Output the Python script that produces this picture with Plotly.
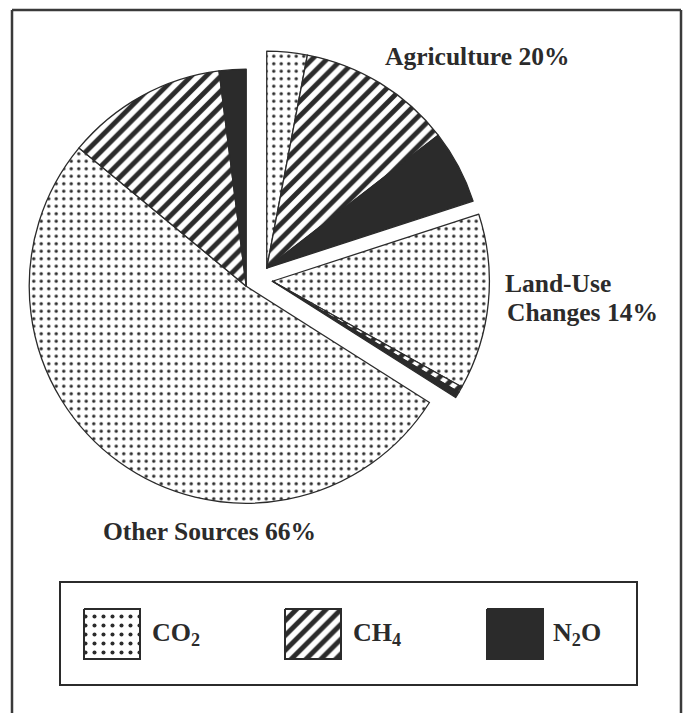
import math
import plotly.graph_objects as go

# ---- data: share of greenhouse-gas emissions (%) by source and gas ----
groups = ["Agriculture", "Land-Use Changes", "Other Sources"]
group_titles = ["Agriculture 20%", "Land-Use", "Changes 14%", "Other Sources 66%"]
gas_keys = ["CO2", "CH4", "N2O"]
gas_names = ["CO<sub>2</sub>", "CH<sub>4</sub>", "N<sub>2</sub>O"]
agriculture = [3.0, 11.5, 5.5]
land_use = [13.1, 0.45, 0.45]
other_sources = [52.0, 12.0, 2.0]

group_values = [agriculture, land_use, other_sources]

# ---- page geometry (pixels) ----
W, H = 683, 713
CX, CY = 258.5, 279.5      # pie centre before the wedges are pulled apart
R = 217                     # pie radius
PULL = 14                   # distance each source wedge is moved out

INK = "#2b2b2b"
CLEAR = "rgba(0,0,0,0)"
FONT = "Liberation Serif"

gas_fill = {
    "CO2": dict(color="white", pattern=dict(shape=".", size=7.5, solidity=0.16,
                                            fgcolor=INK, bgcolor="white", fillmode="replace")),
    "CH4": dict(color="white", pattern=dict(shape="/", size=10.5, solidity=0.47,
                                            fgcolor=INK, bgcolor="white", fillmode="replace")),
    "N2O": dict(color=INK, pattern=dict(shape="", size=8, solidity=0.3,
                                        fgcolor=INK, bgcolor=INK, fillmode="replace")),
}
key_dot_size = 9.0


def px(x):
    return x / W


def py(y):
    return 1 - y / H


labels = [f"{g} {k}" for g in groups for k in gas_keys]
values = [v for vals in group_values for v in vals]
total = sum(values)

fig = go.Figure()

start = 0.0
for gi, vals in enumerate(group_values):
    share = sum(vals)
    ang = math.radians((start + share / 2) / total * 360.0)
    cx = CX + PULL * math.sin(ang)
    cy = CY - PULL * math.cos(ang)
    start += share

    colors, shapes, fgs, bgs, sizes, sols, lcols, lwids = [], [], [], [], [], [], [], []
    for gj in range(len(groups)):
        for key in gas_keys:
            st = gas_fill[key]
            if gj == gi:
                colors.append(st["color"])
                shapes.append(st["pattern"]["shape"])
                fgs.append(st["pattern"]["fgcolor"])
                bgs.append(st["pattern"]["bgcolor"])
                sizes.append(st["pattern"]["size"])
                sols.append(st["pattern"]["solidity"])
                lcols.append(INK)
                lwids.append(1.3)
            else:
                colors.append(CLEAR)
                shapes.append("")
                fgs.append(CLEAR)
                bgs.append(CLEAR)
                sizes.append(8)
                sols.append(0.3)
                lcols.append(CLEAR)
                lwids.append(0)

    fig.add_trace(go.Pie(
        labels=labels, values=values, sort=False, direction="clockwise", rotation=0,
        textinfo="none", hoverinfo="label+value", showlegend=False,
        domain=dict(x=[px(cx - R), px(cx + R)], y=[py(cy + R), py(cy - R)]),
        marker=dict(colors=colors,
                    line=dict(color=lcols, width=lwids),
                    pattern=dict(shape=shapes, fgcolor=fgs, bgcolor=bgs,
                                 size=sizes, solidity=sols, fillmode="replace")),
    ))

# ---- key: patterned swatches drawn on a pixel-space axis ----
KEY_X = [84, 285, 487]
KEY_TEXT_X = [150, 351, 551]
KEY_Y0, KEY_Y1 = 609, 659
SW = 56
for key, name, x0, tx in zip(gas_keys, gas_names, KEY_X, KEY_TEXT_X):
    st = gas_fill[key]
    kw = dict(fill="toself", mode="lines", line=dict(color=INK, width=2),
              showlegend=False, hoverinfo="skip", xaxis="x", yaxis="y")
    if st["pattern"]["shape"]:
        size = key_dot_size if st["pattern"]["shape"] == "." else st["pattern"]["size"]
        kw["fillcolor"] = "white"
        kw["fillpattern"] = dict(shape=st["pattern"]["shape"], size=size,
                                 solidity=st["pattern"]["solidity"], fgcolor=INK,
                                 bgcolor="white", fillmode="replace")
    else:
        kw["fillcolor"] = INK
    fig.add_trace(go.Scatter(x=[x0, x0 + SW, x0 + SW, x0, x0],
                             y=[KEY_Y0, KEY_Y0, KEY_Y1, KEY_Y1, KEY_Y0], **kw))
    fig.add_annotation(x=px(tx), y=py((KEY_Y0 + KEY_Y1) / 2), xref="paper", yref="paper",
                       text=f"<b>{name}</b>", showarrow=False, xanchor="left", yanchor="middle",
                       font=dict(family=FONT, size=26, color=INK))

# ---- source labels ----
label_pos = [(383, 56), (503, 283), (505, 312), (101, 531)]
for text, (x, y) in zip(group_titles, label_pos):
    fig.add_annotation(x=px(x), y=py(y), xref="paper", yref="paper", text=f"<b>{text}</b>",
                       showarrow=False, xanchor="left", yanchor="middle",
                       font=dict(family=FONT, size=25.5, color=INK))

# ---- frame and key box ----
frame = dict(color="#3a3a3a", width=2.5)
fig.add_shape(type="line", xref="paper", yref="paper", x0=px(12), x1=px(12), y0=py(10), y1=py(730), line=frame)
fig.add_shape(type="line", xref="paper", yref="paper", x0=px(681), x1=px(681), y0=py(10), y1=py(730), line=frame)
fig.add_shape(type="line", xref="paper", yref="paper", x0=px(12), x1=px(681), y0=py(10), y1=py(10), line=frame)
fig.add_shape(type="rect", xref="paper", yref="paper", x0=px(60), x1=px(637), y0=py(582), y1=py(685),
              line=dict(color=INK, width=2))

fig.update_layout(
    width=W, height=H, autosize=False,
    margin=dict(l=0, r=0, t=0, b=0),
    paper_bgcolor="white", plot_bgcolor="rgba(0,0,0,0)",
    xaxis=dict(range=[0, W], visible=False, fixedrange=True, domain=[0, 1]),
    yaxis=dict(range=[H, 0], visible=False, fixedrange=True, domain=[0, 1]),
    showlegend=False,
)

fig.write_html("out.html", config={"displayModeBar": False})
